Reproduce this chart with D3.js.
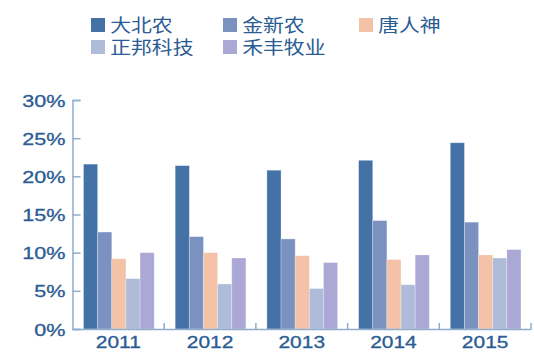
<!DOCTYPE html>
<html>
<head>
<meta charset="utf-8">
<script src="https://cdn.jsdelivr.net/npm/d3@7"></script>
<style>
  body { margin: 0; background: #fff; }
  svg { display: block; }
  text { font-family: "Liberation Sans", Arial, sans-serif; fill: #2b5c94; }
  .legend text { font-family: "Liberation Sans", "Noto Sans CJK SC", sans-serif; }
</style>
</head>
<body>
<svg id="chart"></svg>
<script>
const years = ["2011", "2012", "2013", "2014", "2015"];
const companies = ["大北农", "金新农", "唐人神", "正邦科技", "禾丰牧业"];
const colors = ["#4472a7", "#7b92c0", "#f4c2a6", "#aebcd9", "#aba8d5"];

// one array per company, values in % for 2011..2015
const dabeinong = [21.6, 21.4, 20.8, 22.1, 24.4];
const jinxinnong = [12.7, 12.1, 11.8, 14.2, 14.0];
const tangrenshen = [9.2, 10.0, 9.6, 9.1, 9.7];
const zhengbang = [6.6, 5.9, 5.3, 5.8, 9.3];
const hefeng = [10.0, 9.3, 8.7, 9.7, 10.4];
const seriesValues = [dabeinong, jinxinnong, tangrenshen, zhengbang, hefeng];

const yTicks = [0, 5, 10, 15, 20, 25, 30];

const fullWidth = 534;
const fullHeight = 354;
const plot = {left: 72.5, right: 531, top: 100, bottom: 329};

const svg = d3.select('#chart')
              .attr('width', fullWidth)
              .attr('height', fullHeight);

const x0 = d3.scaleBand().domain(years).range([plot.left, plot.right]).padding(0);
const x1 = d3.scaleBand().domain(companies).range([11, x0.bandwidth() - 10]).padding(0);
const y = d3.scaleLinear().domain([0, 30]).range([plot.bottom, plot.top]);

const axisColor = "#8eaccc";
const stretch = 'scale(1.27,1)'; // the original text is stretched sideways

// y axis, ticks pointing inward
const yAxis = svg.append('g')
                 .attr('transform', 'translate(' + plot.left + ',0)')
                 .call(d3.axisLeft(y).tickValues(yTicks).tickSize(-8).tickFormat(d => d + '%'));
yAxis.select('.domain').attr('stroke', axisColor).attr('stroke-width', 1.5);
yAxis.selectAll('.tick line').attr('stroke', axisColor).attr('stroke-width', 1.5);
yAxis.selectAll('.tick text')
     .attr('x', -5.5)
     .attr('dy', '0.36em')
     .attr('transform', stretch)
     .style('font-size', '17px')
     .style('fill', '#2b5c94')
     .style('stroke', '#2b5c94')
     .style('stroke-width', 0.3);

// bars
const groups = svg.append('g').selectAll('g')
  .data(years)
  .enter().append('g')
    .attr('transform', d => 'translate(' + x0(d) + ',0)');

groups.selectAll('rect')
  .data((d, i) => companies.map((c, k) => ({ company: c, value: seriesValues[k][i], k: k })))
  .enter().append('rect')
    .attr('x', d => x1(d.company))
    .attr('y', d => y(d.value))
    .attr('width', x1.bandwidth())
    .attr('height', d => plot.bottom - y(d.value))
    .attr('fill', d => colors[d.k])
    .attr('stroke', 'rgba(255,255,255,0.35)')
    .attr('stroke-width', 0.8);

// x axis
const xAxis = svg.append('g')
                 .attr('transform', 'translate(0,' + plot.bottom + ')')
                 .call(d3.axisBottom(x0).tickSize(0).tickSizeOuter(0));
xAxis.select('.domain').attr('stroke', axisColor).attr('stroke-width', 1.5);
xAxis.selectAll('.tick text')
     .attr('y', 7)
     .attr('dy', '0.71em')
     .attr('transform', stretch)
     .style('font-size', '16.5px')
     .style('fill', '#2b5c94')
     .style('stroke', '#2b5c94')
     .style('stroke-width', 0.3);

// boundary ticks between categories
svg.append('g').selectAll('line')
  .data(years)
  .enter().append('line')
    .attr('x1', d => x0(d) + x0.bandwidth())
    .attr('x2', d => x0(d) + x0.bandwidth())
    .attr('y1', plot.bottom)
    .attr('y2', plot.bottom - 6)
    .attr('stroke', axisColor)
    .attr('stroke-width', 1.5);

// legend
const legend = svg.append('g').attr('class', 'legend');
const item = legend.selectAll('g')
  .data(companies)
  .enter().append('g')
    .attr('transform', (d, i) => 'translate(' + [91, 223, 359][i % 3] + ',' + (18 + Math.floor(i / 3) * 22) + ')');

item.append('rect')
    .attr('width', 14)
    .attr('height', 14)
    .attr('fill', (d, i) => colors[i]);

item.append('text')
    .attr('x', 16.5)
    .attr('y', 14)
    .attr('transform', 'scale(1.16,1)')
    .style('font-size', '18px')
    .style('fill', '#2b5c94')
    .text(d => d);
</script>
</body>
</html>
